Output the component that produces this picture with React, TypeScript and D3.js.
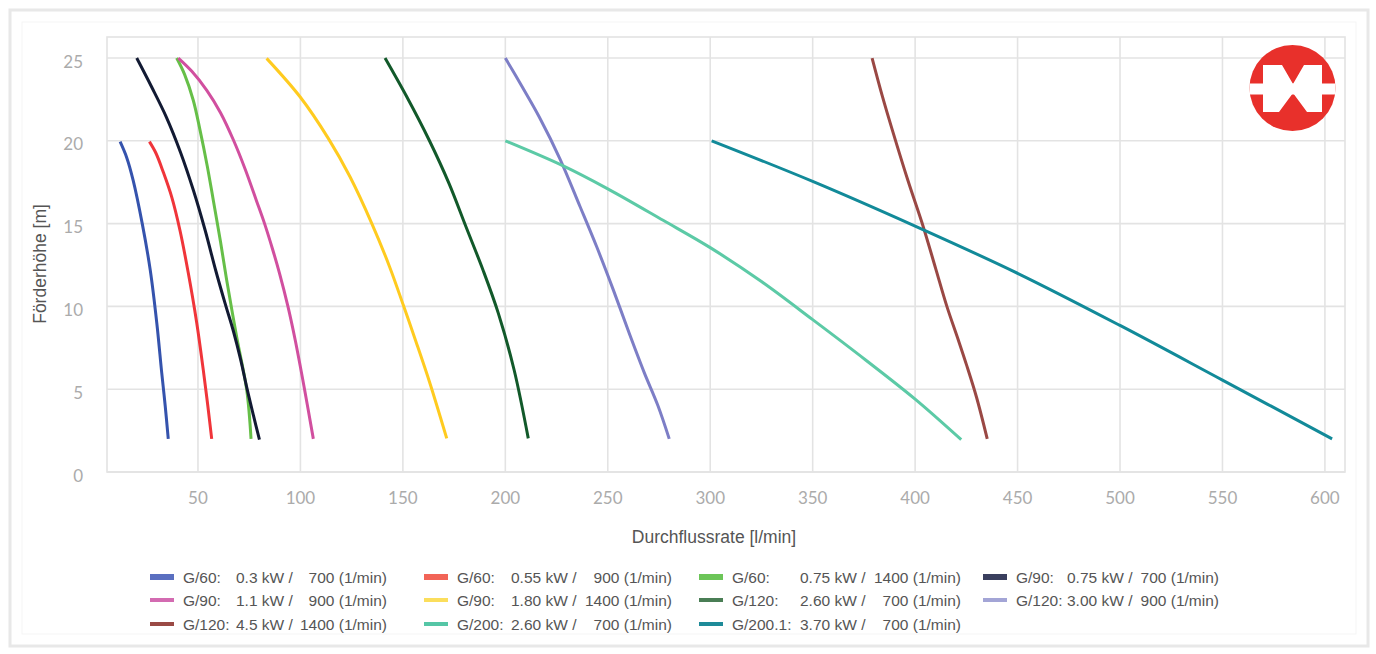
import React from 'react';
import * as d3 from 'd3';

// ---------- data ----------
const xTicks = [50, 100, 150, 200, 250, 300, 350, 400, 450, 500, 550, 600];
const yTicks = [0, 5, 10, 15, 20, 25];

const g60_030 = [[12, 19.95], [15.2, 19], [18.4, 17.6], [22.8, 15], [26.7, 12.2], [29.9, 9], [32.3, 6], [34, 4], [35.5, 2]];
const g60_055 = [[26.3, 19.95], [29.5, 19.25], [33.1, 18.1], [37.2, 16.6], [41.2, 14.6], [45.3, 12], [49.4, 9], [52.6, 6.15], [54.8, 4], [56.7, 2]];
const g60_075 = [[39.6, 25], [43.5, 24], [47.7, 22.45], [51, 20.65], [54.5, 18.5], [57.5, 16.4], [61, 13.9], [64, 11.6], [68.9, 8.15], [73.8, 4.95], [75.9, 2]];
const g90_075 = [[20.1, 25], [27.4, 23.25], [34.5, 21.45], [41.5, 19.3], [47.8, 17], [53.5, 14.6], [58.6, 12.2], [63.2, 10.2], [67.3, 8.5], [70.8, 6.8], [74, 5], [77.1, 3.4], [80, 1.95]];
const g90_110 = [[40.4, 25], [47, 24.2], [54.3, 23.05], [61, 21.7], [67.3, 20.05], [73, 18.3], [78.5, 16.4], [82.5, 15], [86.3, 13.5], [89.8, 12], [93.9, 10], [97.4, 8], [102, 5], [106.3, 2]];
const g90_180 = [[83.5, 24.98], [99.8, 22.66], [113.6, 20.15], [124.2, 17.83], [134.8, 15.02], [143.5, 12.4], [150.2, 10.08], [156.4, 7.87], [163.2, 5.36], [171.4, 2.03]];
const g120_260 = [[141.3, 25], [151.9, 22.66], [162.8, 20.05], [172.5, 17.43], [180.8, 14.81], [189.1, 12.2], [196.6, 9.58], [204.3, 6.16], [211.2, 2.03]];
const g120_300 = [[200, 25], [208.5, 23.2], [216.5, 21.45], [226.7, 18.9], [236.4, 16.05], [244.6, 13.6], [252.7, 11], [260.7, 8.3], [267.8, 6], [274.5, 4], [280, 2]];
const g120_450 = [[379, 25], [384, 22.7], [389, 20.6], [396.5, 17.6], [404, 14.8], [410, 12.3], [415.5, 10], [421, 8], [425, 6.5], [430, 4.5], [435.2, 2]];
const g200_260 = [[200, 20], [228, 18.5], [250, 17.1], [277, 15.2], [300, 13.55], [325, 11.5], [350, 9.2], [376, 6.75], [400, 4.4], [422.5, 1.95]];
const g2001_370 = [[300.7, 20], [350, 17.55], [400, 14.85], [450, 12.0], [500, 8.85], [550, 5.55], [603.5, 2]];

const seriesData = [g60_030, g60_055, g60_075, g90_075, g90_110, g90_180, g120_260, g120_300, g120_450, g200_260, g2001_370];
const seriesModel = ['G/60:', 'G/60:', 'G/60:', 'G/90:', 'G/90:', 'G/90:', 'G/120:', 'G/120:', 'G/120:', 'G/200:', 'G/200.1:'];
const seriesPower = ['0.3 kW /', '0.55 kW /', '0.75 kW /', '0.75 kW /', '1.1 kW /', '1.80 kW /', '2.60 kW /', '3.00 kW /', '4.5 kW /', '2.60 kW /', '3.70 kW /'];
const seriesRpm = ['700 (1/min)', '900 (1/min)', '1400 (1/min)', '700 (1/min)', '900 (1/min)', '1400 (1/min)', '700 (1/min)', '900 (1/min)', '1400 (1/min)', '700 (1/min)', '700 (1/min)'];
const seriesColors = ['#3553ad', '#f0353a', '#66bf48', '#121a33', '#d14f9f', '#ffcb1f', '#12592a', '#7d7ec6', '#9a4844', '#5ccaa6', '#128a99'];
const swatchColors = ['#5a6fc0', '#f26457', '#6cc558', '#3a3f5e', '#d36bb1', '#fbde5c', '#4a7e55', '#a3a5d6', '#9a4a45', '#55c6a6', '#1e8b99'];

const xAxisTitle = 'Durchflussrate [l/min]';
const yAxisTitle = 'Förderhöhe [m]';

// ---------- layout ----------
const W = 1376, H = 654;
const PL = 107, PR = 1345, PT = 37, PB = 472;
const legendColX = [183, 457, 732, 1016];
const legendValOff = [53, 54, 68, 51];
const legendEndOff = [204, 215, 229, 203];
const legendRowY = [577, 600, 624];

export default function App() {
  const x = d3.scaleLinear().domain([5.6, 609.8]).range([PL, PR]);
  const y = d3.scaleLinear().domain([0, 26.27]).range([PB, PT]);
  const line = d3.line<number[]>().x(d => x(d[0])).y(d => y(d[1])).curve(d3.curveCatmullRom.alpha(0.5));

  const grid = '#e3e3e3';
  const tickFont = 'Lato, "Open Sans", sans-serif';
  const txtFont = '"Liberation Sans", Arial, sans-serif';

  return (
    <svg width={W} height={H} style={{ position: 'absolute', left: 0, top: 0, background: '#fff' }}>
      <rect x={10} y={10} width={1358} height={636} fill="#fff" stroke="#e8e8e8" strokeWidth={3} />
      <rect x={22} y={22} width={1334} height={612} fill="none" stroke="#f5f5f5" strokeWidth={1} />

      {/* grid */}
      {xTicks.map(t => (
        <line key={'gx' + t} x1={x(t)} x2={x(t)} y1={PT} y2={PB} stroke={grid} strokeWidth={1.6} />
      ))}
      {yTicks.map(t => (
        <line key={'gy' + t} x1={PL} x2={PR} y1={y(t)} y2={y(t)} stroke={grid} strokeWidth={1.6} />
      ))}
      <rect x={PL} y={PT} width={PR - PL} height={PB - PT} fill="none" stroke={grid} strokeWidth={1.6} />

      {/* tick labels */}
      {xTicks.map(t => (
        <text key={'tx' + t} x={x(t)} y={497} textAnchor="middle" dominantBaseline="central"
          fontFamily={tickFont} fontSize={17} fill="#ababab">{t}</text>
      ))}
      {yTicks.map(t => (
        <text key={'ty' + t} x={83} y={y(t) + 3} textAnchor="end" dominantBaseline="central"
          fontFamily={tickFont} fontSize={17} fill="#ababab">{t}</text>
      ))}

      {/* axis titles */}
      <text x={714} y={537} textAnchor="middle" dominantBaseline="central" fontFamily={txtFont}
        fontSize={17.5} fill="#555">{xAxisTitle}</text>
      <text transform="translate(40,264) rotate(-90)" textAnchor="middle" dominantBaseline="central"
        fontFamily={txtFont} fontSize={17.5} fill="#555">{yAxisTitle}</text>

      {/* curves */}
      {seriesData.map((d, i) => (
        <path key={'s' + i} d={line(d) || ''} fill="none" stroke={seriesColors[i]} strokeWidth={3} />
      ))}

      {/* logo */}
      <defs>
        <clipPath id="logoClip"><circle cx={1292.5} cy={88} r={43} /></clipPath>
      </defs>
      <circle cx={1292.5} cy={88} r={43} fill="#e8302b" />
      <g clipPath="url(#logoClip)" fill="#fff">
        <rect x={1246} y={83.5} width={93} height={11} />
        <polygon points="1263,65 1282,65 1293,84 1304,65 1322,65 1322,112 1307,112 1293,93 1279,112 1263,112" />
      </g>

      {/* legend */}
      {seriesData.map((_, i) => {
        const col = i % 4;
        const row = Math.floor(i / 4);
        const x0 = legendColX[col];
        const cy = legendRowY[row];
        const sh = row === 0 ? 6 : 4;
        return (
          <g key={'lg' + i}>
            <rect x={x0 - 33} y={cy - sh / 2} width={24} height={sh} fill={swatchColors[i]} />
            <text x={x0} y={cy} dominantBaseline="central" fontFamily={txtFont} fontSize={15.5} fill="#555">{seriesModel[i]}</text>
            <text x={x0 + legendValOff[col]} y={cy} dominantBaseline="central" fontFamily={txtFont} fontSize={15.5} fill="#555">{seriesPower[i]}</text>
            <text x={x0 + legendEndOff[col]} y={cy} textAnchor="end" dominantBaseline="central" fontFamily={txtFont} fontSize={15.5} fill="#555">{seriesRpm[i]}</text>
          </g>
        );
      })}
    </svg>
  );
}
